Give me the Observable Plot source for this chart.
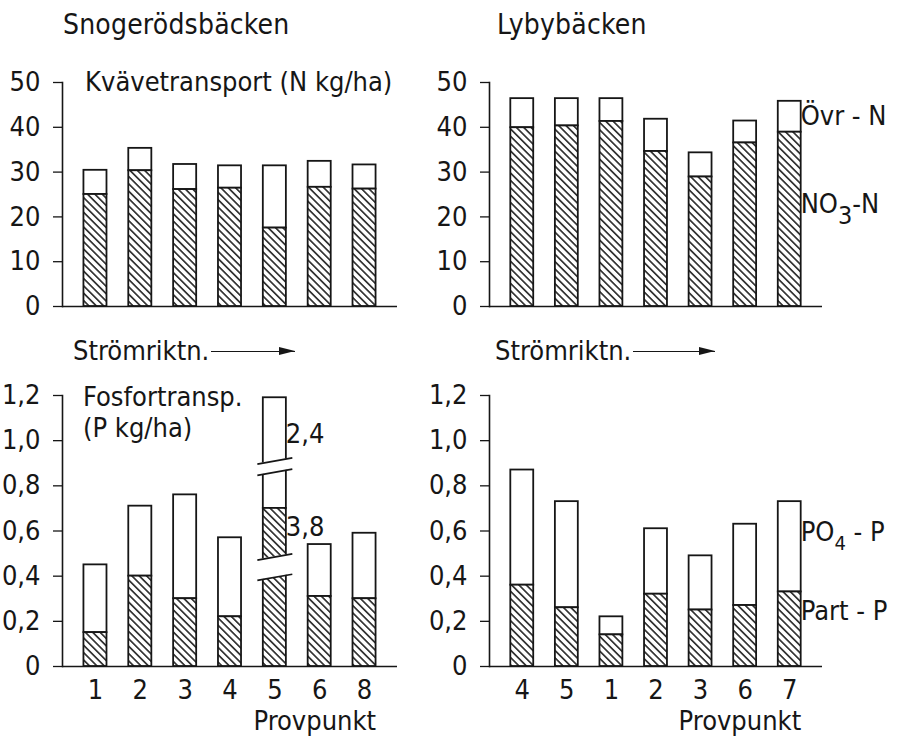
<!DOCTYPE html>
<html>
<head>
<meta charset="utf-8">
<script src="https://cdn.jsdelivr.net/npm/d3@7"></script>
<script src="https://cdn.jsdelivr.net/npm/@observablehq/plot@0.6"></script>
<style>
  body { margin: 0; background: #fff; }
  #chart {
    position: relative; width: 901px; height: 739px; background: #fff; overflow: hidden;
    font-family: "DejaVu Sans Condensed", "DejaVu Sans", sans-serif; font-stretch: condensed; color: #161616;
  }
  .panel { position: absolute; }
  .title { position: absolute; font-size: 28px; line-height: 28px; white-space: nowrap; letter-spacing: 0.2px; }
  .flow { position: absolute; font-size: 27px; line-height: 27px; white-space: nowrap; display: flex; align-items: center; }
  .flow .arrow { position: relative; top: 1px; height: 0; border-top: 1.5px solid #161616; margin-left: 2px; }
  .flow .arrow::after {
    content: ""; position: absolute; right: 0; top: -5px;
    border-left: 16px solid #161616; border-top: 4px solid transparent; border-bottom: 4px solid transparent;
  }
</style>
</head>
<body>
<svg width="0" height="0" style="position:absolute">
  <defs>
    <pattern id="hatch" patternUnits="userSpaceOnUse" width="5.2" height="5.2" patternTransform="rotate(-45)">
      <rect width="5.2" height="5.2" fill="#fff"></rect>
      <line x1="2.6" y1="0" x2="2.6" y2="5.2" stroke="#161616" stroke-width="1.5"></line>
    </pattern>
  </defs>
</svg>
<div id="chart"></div>
<script>
// Provpunkt order along each stream, in the direction of flow
const snogPoints = ["1", "2", "3", "4", "5", "6", "8"];
const lybyPoints = ["4", "5", "1", "2", "3", "6", "7"];

// Kvävetransport (N kg/ha): NO3-N and other N
const snogNitrate = [25.0, 30.3, 26.1, 26.4, 17.5, 26.6, 26.2];
const snogOtherN  = [5.4, 5.0, 5.6, 5.0, 13.9, 5.8, 5.4];
const lybyNitrate = [39.9, 40.3, 41.3, 34.6, 28.9, 36.5, 38.9];
const lybyOtherN  = [6.5, 6.1, 5.1, 7.2, 5.4, 4.9, 6.9];

// Fosfortransport (P kg/ha): particulate P and PO4-P
const snogPartP = [0.15, 0.40, 0.30, 0.22, 3.8, 0.31, 0.30];
const snogPO4P  = [0.30, 0.31, 0.46, 0.35, 2.4, 0.23, 0.29];
const lybyPartP = [0.36, 0.26, 0.14, 0.32, 0.25, 0.27, 0.33];
const lybyPO4P  = [0.51, 0.47, 0.08, 0.29, 0.24, 0.36, 0.40];

// Axis ticks
const nTicks = [0, 10, 20, 30, 40, 50];
const pTicks = [0, 0.2, 0.4, 0.6, 0.8, 1.0, 1.2];

// Broken bar at Snogerödsbäcken point 5: each cut removes [lo, hi] of the
// value axis and leaves a gap of the given height in its place
const snogBreak = {point: "5", cuts: [{lo: 0.395, hi: 3.585, gap: 0.09}, {lo: 3.96, hi: 5.92, gap: 0.05}]};

const ink = "#161616";
const font = '"DejaVu Sans Condensed", "DejaVu Sans", sans-serif';
const halfBar = 0.257;
const xDomain = [0.265, 7.735];
const commaFormat = d => d === 0 ? "0" : d3.format(".1f")(d).replace(".", ",");

function drawnValue(v, cuts) {
  let out = v;
  for (const c of cuts) if (v >= c.hi) out -= c.hi - c.lo - c.gap;
  return out;
}

function barRows(points, lower, upper, brk) {
  return points.map((p, i) => {
    const f = brk && p === brk.point ? v => drawnValue(v, brk.cuts) : v => v;
    return {pos: i + 1, point: p, mid: f(lower[i]), top: f(lower[i] + upper[i])};
  });
}

function breakMarks(rows, brk) {
  const r = rows.find(d => d.point === brk.point);
  const tilt = 0.035, reach = 0.39, cover = halfBar + 0.04;
  const gaps = brk.cuts.map(c => {
    const lo = drawnValue(c.lo, brk.cuts);
    return {lo, hi: lo + c.gap};
  });
  const patches = gaps.flatMap((g, k) => [-cover, cover].map(dx => ({k, x: r.pos + dx, y1: g.lo + tilt * dx, y2: g.hi + tilt * dx})));
  const cutLines = gaps.flatMap(g => [g.lo, g.hi]).map(c => ({x1: r.pos - reach, y1: c - tilt * reach, x2: r.pos + reach, y2: c + tilt * reach}));
  return [
    Plot.areaY(patches, {x: "x", y1: "y1", y2: "y2", z: "k", fill: "#fff"}),
    Plot.link(cutLines, {x1: "x1", y1: "y1", x2: "x2", y2: "y2", stroke: ink, strokeWidth: 1.7})
  ];
}

function panel({points, lower, upper, brk, yDomain, yTicks, yFormat, width, height, marginLeft, marginRight, marginTop, marginBottom, labels, bottom}) {
  const rows = barRows(points, lower, upper, brk);
  const marks = [
    Plot.ruleY([0], {stroke: ink, strokeWidth: 1.5}),
    Plot.frame({anchor: "left", stroke: ink, strokeWidth: 1.6}),
    Plot.axisY({ticks: yTicks, tickFormat: yFormat, tickSize: 9, tickPadding: 13, label: null, stroke: ink, strokeWidth: 1.3, fill: ink, fontSize: 27}),
    Plot.rect(rows, {x1: d => d.pos - halfBar, x2: d => d.pos + halfBar, y1: "mid", y2: "top", fill: "#fff", stroke: ink, strokeWidth: 1.8}),
    Plot.rect(rows, {x1: d => d.pos - halfBar, x2: d => d.pos + halfBar, y1: 0, y2: "mid", fill: "url(#hatch)", stroke: ink, strokeWidth: 1.8})
  ];
  if (brk) marks.push(...breakMarks(rows, brk));
  if (bottom) {
    marks.push(Plot.axisX({ticks: rows.map(d => d.pos), tickFormat: i => points[i - 1], tickSize: 0, tickPadding: 13, label: null, fill: ink, fontSize: 27}));
    marks.push(Plot.text(["Provpunkt"], {x: points.length + halfBar, frameAnchor: "bottom", textAnchor: "end", lineAnchor: "middle", dy: 55, fill: ink, fontSize: 27}));
  }
  marks.push(Plot.text(labels, {x: "x", y: "y", text: "text", dx: "dx", textAnchor: "start", lineAnchor: "middle", fill: ink, fontSize: 27}));
  const svg = Plot.plot({
    width, height, marginLeft, marginRight, marginTop, marginBottom,
    style: {fontFamily: font, fontSize: "27px", background: "transparent", maxWidth: "none", fontStretch: "condensed"},
    x: {type: "linear", domain: xDomain, axis: bottom ? undefined : null},
    y: {domain: yDomain},
    marks
  });
  // subscripts in chemical labels (NO3, PO4)
  for (const lab of labels.filter(d => d.sub)) {
    for (const t of svg.querySelectorAll("text")) {
      if (t.textContent !== lab.text) continue;
      const [a, b] = lab.sub;
      t.textContent = "";
      const parts = [[lab.text.slice(0, a), 0, null], [lab.text.slice(a, b), lab.drop, lab.subSize], [lab.text.slice(b), -lab.drop, null]];
      for (const [s, dy, size] of parts) {
        const ts = document.createElementNS("http://www.w3.org/2000/svg", "tspan");
        ts.textContent = s;
        if (dy) ts.setAttribute("dy", dy);
        if (size) ts.setAttribute("font-size", size);
        t.appendChild(ts);
      }
    }
  }
  return svg;
}

const chart = document.getElementById("chart");
function place(node, left, top) {
  const div = document.createElement("div");
  div.className = "panel";
  div.style.left = left + "px";
  div.style.top = top + "px";
  div.appendChild(node);
  chart.appendChild(div);
}

const snogP5 = snogPoints.indexOf(snogBreak.point);

place(panel({
  points: snogPoints, lower: snogNitrate, upper: snogOtherN,
  yDomain: [0, 50], yTicks: nTicks, yFormat: d3.format("d"),
  width: 400, height: 330, marginLeft: 62, marginRight: 3, marginTop: 82, marginBottom: 24,
  labels: [{x: 0.78, y: 50, dx: 0, text: "Kvävetransport (N kg/ha)"}]
}), 0, 0);

place(panel({
  points: lybyPoints, lower: lybyNitrate, upper: lybyOtherN,
  yDomain: [0, 50], yTicks: nTicks, yFormat: d3.format("d"),
  width: 501, height: 330, marginLeft: 89, marginRight: 79, marginTop: 82, marginBottom: 24,
  labels: [
    {x: 7 + halfBar, y: 42.4, dx: 9, text: "Övr - N"},
    {x: 7 + halfBar, y: 22.6, dx: 9, text: "NO3-N", sub: [2, 3], drop: 11, subSize: 25}
  ]
}), 400, 0);

place(panel({
  points: snogPoints, lower: snogPartP, upper: snogPO4P, brk: snogBreak,
  yDomain: [0, 1.2], yTicks: pTicks, yFormat: commaFormat,
  width: 400, height: 409, marginLeft: 62, marginRight: 3, marginTop: 65, marginBottom: 73,
  bottom: true,
  labels: [
    {x: 0.733, y: 1.19, dx: 0, text: "Fosfortransp."},
    {x: 0.733, y: 1.054, dx: 0, text: "(P kg/ha)"},
    {x: snogP5 + 1 + halfBar, y: 1.027, dx: 6, text: commaFormat(snogPO4P[snogP5])},
    {x: snogP5 + 1 + halfBar, y: 0.616, dx: 4, text: commaFormat(snogPartP[snogP5])}
  ]
}), 0, 330);

place(panel({
  points: lybyPoints, lower: lybyPartP, upper: lybyPO4P,
  yDomain: [0, 1.2], yTicks: pTicks, yFormat: commaFormat,
  width: 501, height: 409, marginLeft: 89, marginRight: 79, marginTop: 65, marginBottom: 73,
  bottom: true,
  labels: [
    {x: 7 + halfBar, y: 0.593, dx: 9, text: "PO4 - P", sub: [2, 3], drop: 9, subSize: 20},
    {x: 7 + halfBar, y: 0.244, dx: 9, text: "Part - P"}
  ]
}), 400, 330);

// stream names and flow-direction notes
function addText(cls, text, left, top, arrowWidth) {
  const div = document.createElement("div");
  div.className = cls;
  div.style.left = left + "px";
  div.style.top = top + "px";
  const span = document.createElement("span");
  span.textContent = text;
  div.appendChild(span);
  if (arrowWidth) {
    const a = document.createElement("span");
    a.className = "arrow";
    a.style.width = arrowWidth + "px";
    div.appendChild(a);
  }
  chart.appendChild(div);
}
addText("title", "Snogerödsbäcken", 63, 11);
addText("title", "Lybybäcken", 497, 11);
addText("flow", "Strömriktn.", 73, 337, 84);
addText("flow", "Strömriktn.", 495, 337, 82);
</script>
</body>
</html>
